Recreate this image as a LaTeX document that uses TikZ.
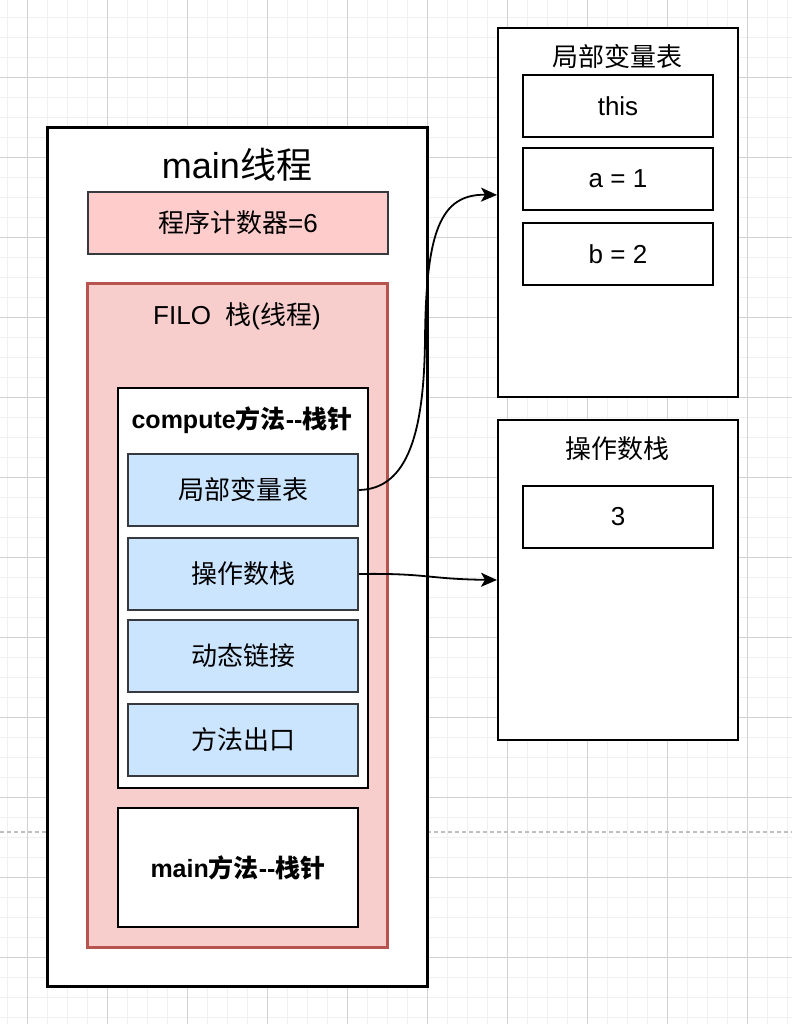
\documentclass[tikz,border=0pt]{standalone}
\usepackage{fontspec}
\setmainfont{Liberation Sans}
\newfontfamily\cjk{Noto Sans CJK SC}
\usetikzlibrary{arrows.meta, calc}

\definecolor{stackfill}{HTML}{F8CECC}
\definecolor{stackline}{HTML}{B85450}
\definecolor{pcfill}{HTML}{FFCCCC}
\definecolor{boxline}{HTML}{36393D}
\definecolor{slotfill}{HTML}{CCE5FF}

\begin{document}
\begin{tikzpicture}[
    x=1pt, y=-1pt,
    % Raster im Hintergrund
    gridminor/.style={black!6, line width=0.8pt},
    gridmajor/.style={black!18, line width=0.8pt},
    % Rahmen (leer, Titel separat)
    frame/.style={draw, line width=2pt, fill=white, anchor=north west, inner sep=0pt},
    % hellblaue Felder im Stackframe
    slot/.style={draw=boxline, line width=2pt, fill=slotfill, anchor=north west,
                 minimum width=230, minimum height=72, inner sep=0pt, font=\fontsize{26}{30}\selectfont},
    % Zellen rechts
    cell/.style={draw, line width=2pt, fill=white, anchor=north west,
                 minimum width=190, minimum height=62, inner sep=0pt, font=\fontsize{26}{30}\selectfont},
    % Beschriftung
    title/.style={font=\fontsize{26}{30}\selectfont, inner sep=0pt},
    % Verbindungen
    link/.style={-{Stealth[length=16pt, width=14pt, inset=4pt]}, line width=1.8pt}
]
\useasboundingbox (0,0) rectangle (792,1024);

% --- HINTERGRUND ---
\fill[white] (0,0) rectangle (792,1024);
\foreach \x in {7,27,...,787} \draw[gridminor] (\x,0) -- (\x,1024);
\foreach \y in {17,37,...,1017} \draw[gridminor] (0,\y) -- (792,\y);
\foreach \x in {27,107,...,747} \draw[gridmajor] (\x,0) -- (\x,1024);
\foreach \y in {77,157,...,957} \draw[gridmajor] (0,\y) -- (792,\y);
\draw[black!25, line width=1.5pt, dash pattern=on 4pt off 3pt] (0,832) -- (792,832);

% --- LINKS: MAIN-THREAD ---
\node[frame, line width=3pt, minimum width=380, minimum height=859] (thread) at (46,126) {};
\node[title, font=\fontsize{36}{40}\selectfont] (threadTitle) at (237,165) {main{\cjk 线程}};
\node[frame, draw=boxline, fill=pcfill, minimum width=300, minimum height=62,
      font=\fontsize{26}{30}\selectfont] (pc) at (87,191) {{\cjk 程序计数器}=6};

\node[frame, draw=stackline, fill=stackfill, line width=3pt, minimum width=300, minimum height=664] (stack) at (86,282) {};
\node[title] (stackTitle) at (237,316) {FILO\ \ {\cjk 栈}({\cjk 线程})};

% Stackframe compute
\node[frame, minimum width=250, minimum height=400] (compute) at (117,387) {};
\node[title, font=\fontsize{25}{30}\selectfont\bfseries] (computeTitle) at (242,420) {compute{\cjk 方法}-{}-{\cjk 栈针}};
\node[slot] (lvt) at (127,453) {\cjk 局部变量表};
\node[slot] (ops) at (127,537) {\cjk 操作数栈};
\node[slot] (dyn) at (127,619) {\cjk 动态链接};
\node[slot] (ret) at (127,703) {\cjk 方法出口};

% Stackframe main
\node[frame, minimum width=240, minimum height=119, font=\fontsize{25}{30}\selectfont\bfseries] (mainFrame) at (117,807) {main{\cjk 方法}-{}-{\cjk 栈针}};

% --- RECHTS OBEN: LOKALE VARIABLEN ---
\node[frame, minimum width=240, minimum height=369] (lvtTable) at (497,27) {};
\node[title] (lvtTitle) at (617,57) {\cjk 局部变量表};
\node[cell] (cThis) at (522,74) {this};
\node[cell] (cA) at (522,147) {a = 1};
\node[cell] (cB) at (522,222) {b = 2};

% --- RECHTS UNTEN: OPERANDENSTACK ---
\node[frame, minimum width=240, minimum height=320] (opsStack) at (497,419) {};
\node[title] (opsTitle) at (617,449) {\cjk 操作数栈};
\node[cell] (cThree) at (522,485) {3};

% --- VERBINDUNGEN ---
\coordinate (lvtIn) at ($(lvtTable.north west)!0.4526!(lvtTable.south west)$);
\draw[link] (lvt.east) .. controls (408,489) and (424,432) .. (425,340)
                       .. controls (426,232) and (440,194) .. (lvtIn);
\draw[link] (ops.east) .. controls (427,573) and (427,579) .. (opsStack.west);

\end{tikzpicture}
\end{document}
